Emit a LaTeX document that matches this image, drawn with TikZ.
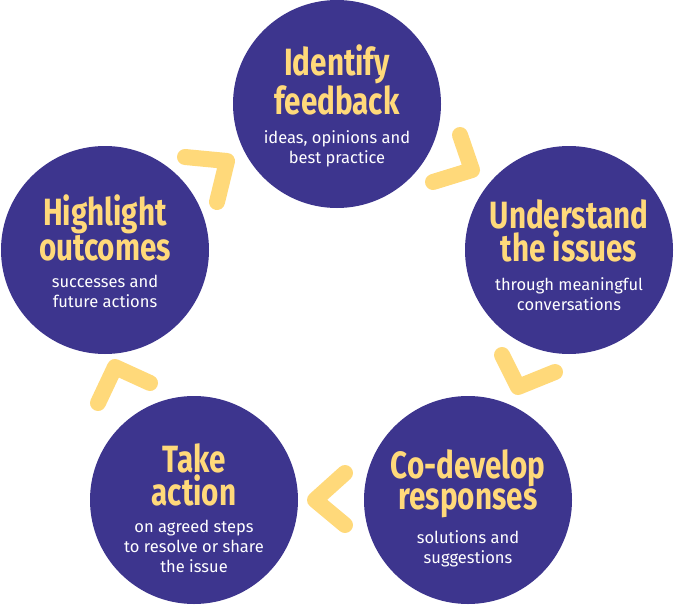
\documentclass[tikz,border=0pt]{standalone}
\usepackage{fontspec}
\setmainfont{Fira Sans}
\newfontfamily\headfont{Fira Sans}[FakeStretch=0.78]
\definecolor{cycleblue}{HTML}{3D358E}
\definecolor{cycleyellow}{HTML}{FFD97A}

\begin{document}
\begin{tikzpicture}[
    x=1pt, y=-1pt,
    stage/.style={circle, fill=cycleblue, minimum size=208pt, inner sep=0pt},
    heading/.style={anchor=base, align=center, text=cycleyellow,
      font=\headfont\bfseries\fontsize{38}{31}\selectfont},
    detail/.style={anchor=base, align=center, text=white,
      font=\fontsize{16.5}{20}\selectfont},
    chevron/.style={draw=cycleyellow, line width=16pt, line cap=round, line join=round}
  ]
  \useasboundingbox (0,0) rectangle (674,607);

  % the five stages
  \node[stage] (identify) at (337,104) {};
  \node[stage] (understand) at (569,250) {};
  \node[stage] (codevelop) at (468,500) {};
  \node[stage] (action) at (194,500) {};
  \node[stage] (highlight) at (105,250) {};

  % headings and details (base = last line)
  \node[heading] (identifyhead) at ([yshift=-10pt]identify.center) {Identify\\feedback};
  \node[detail] (identifytext) at ([yshift=-59pt]identify.center) {ideas, opinions and\\best practice};

  \node[heading] (understandhead) at ([yshift=-11pt]understand.center) {Understand\\the issues};
  \node[detail] (understandtext) at ([yshift=-60pt]understand.center) {through meaningful\\conversations};

  \node[heading] (codevelophead) at ([yshift=-9pt]codevelop.center) {Co-develop\\responses};
  \node[detail] (codeveloptext) at ([yshift=-63pt]codevelop.center) {solutions and\\suggestions};

  \node[heading] (actionhead) at ([yshift=-5pt]action.center) {Take\\action};
  \node[detail] (actiontext) at ([yshift=-72pt]action.center) {on agreed steps\\to resolve or share\\the issue};

  \node[heading] (highlighthead) at ([yshift=-10pt]highlight.center) {Highlight\\outcomes};
  \node[detail] (highlighttext) at ([yshift=-57pt]highlight.center) {successes and\\future actions};

  % chevrons between the stages
  \draw[chevron] (185,157) -- (227,161) -- (217,202);
  \draw[chevron] (460,135) -- (472,170) -- (433,182);
  \draw[chevron] (502,355) -- (518,387) -- (555,372);
  \draw[chevron] (345,473) -- (315,500) -- (345,525);
  \draw[chevron] (98,403) -- (115,367) -- (150,383);
\end{tikzpicture}
\end{document}
